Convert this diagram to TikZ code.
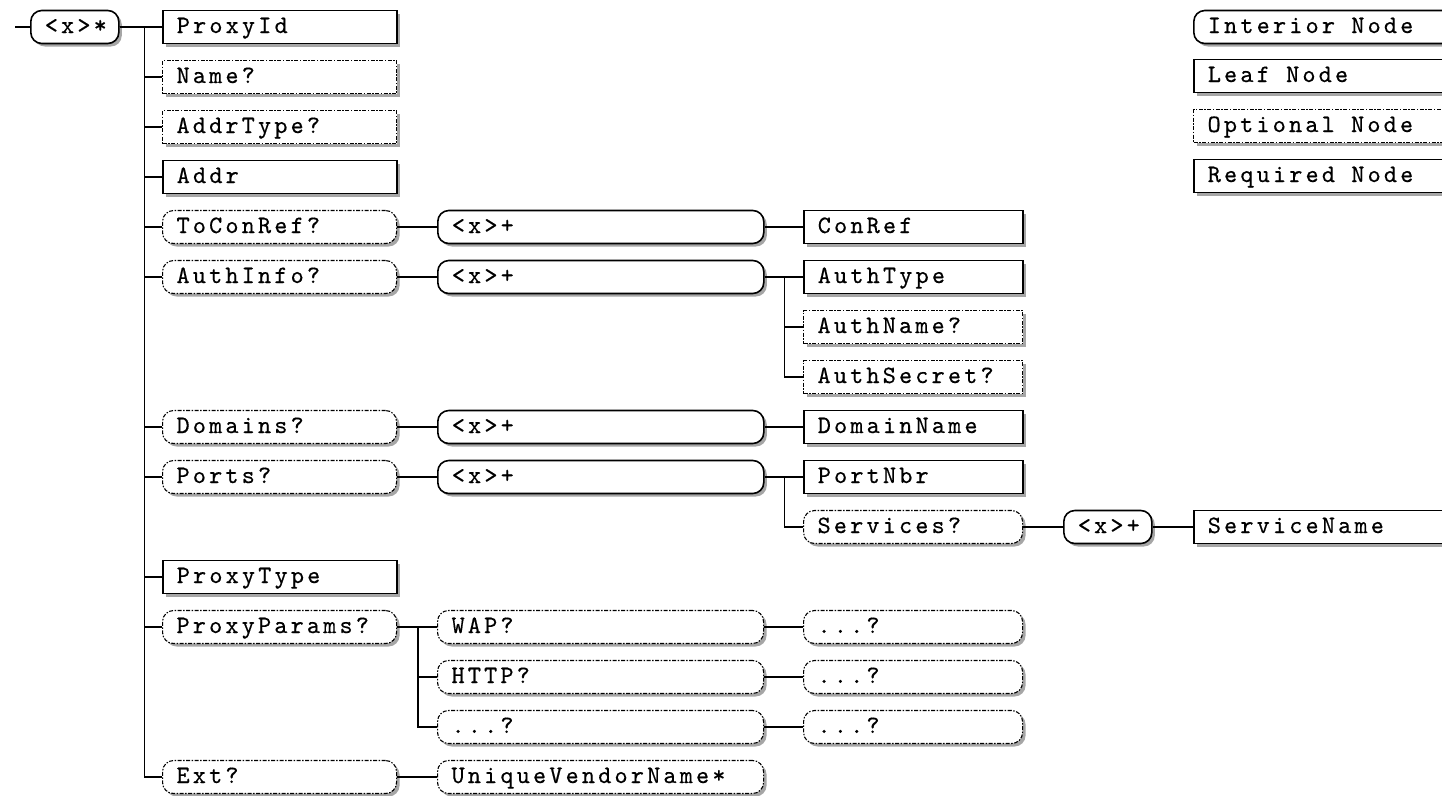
\documentclass[tikz,border=0pt]{standalone}
\usepackage{fontspec}
\newfontfamily\boxfont{lmmono10-regular.otf}[LetterSpace=12.7,FakeBold=0.4]
\newcommand\wsp{\hspace{16.3pt}}
\usetikzlibrary{shadows}
\begin{document}
\begin{tikzpicture}[x=1pt,y=-1pt,
  base/.style={draw=black, fill=white, anchor=west, minimum height=33pt,
    inner xsep=14pt, inner ysep=0pt, text height=15pt, text depth=3pt,
    align=left, font=\boxfont\fontsize{25}{25}\selectfont,
    drop shadow={shadow xshift=3pt, shadow yshift=-3pt, fill=black!35, opacity=1}},
  req/.style={line width=1.6pt},
  opt/.style={line width=1.1pt, dash pattern=on 4pt off 1.5pt on 1.5pt off 1.5pt},
  interior/.style={rounded corners=11pt},
  wone/.style={text width=206pt},
  wtwo/.style={text width=298pt},
  wthree/.style={text width=191pt},
  wsmall/.style={text width=60pt},
  wlong/.style={text width=232pt},
  conn/.style={line width=1.6pt, draw=black}
]
\useasboundingbox (0,0) rectangle (1442,795);
\clip (0,0) rectangle (1442,795);
\fill[white] (0,0) rectangle (1442,795);

% root
\coordinate (start) at (15,27);
\node[base,interior,req,wsmall] (root) at (30,27) {<x>*};

% column 1
\node[base,req,wone] (proxyid) at (162,27) {ProxyId};
\node[base,opt,wone] (name) at (162,77) {Name?};
\node[base,opt,wone] (addrtype) at (162,127) {AddrType?};
\node[base,req,wone] (addr) at (162,177) {Addr};
\node[base,interior,opt,wone] (toconref) at (162,227) {ToConRef?};
\node[base,interior,opt,wone] (authinfo) at (162,277) {AuthInfo?};
\node[base,interior,opt,wone] (domains) at (162,427) {Domains?};
\node[base,interior,opt,wone] (ports) at (162,477) {Ports?};
\node[base,req,wone] (proxytype) at (162,577) {ProxyType};
\node[base,interior,opt,wone] (proxyparams) at (162,627) {ProxyParams?};
\node[base,interior,opt,wone] (ext) at (162,777) {Ext?};

% column 2
\node[base,interior,req,wtwo] (xa) at (437,227) {<x>+};
\node[base,interior,req,wtwo] (xb) at (437,277) {<x>+};
\node[base,interior,req,wtwo] (xc) at (437,427) {<x>+};
\node[base,interior,req,wtwo] (xd) at (437,477) {<x>+};
\node[base,interior,opt,wtwo] (wap) at (437,627) {WAP?};
\node[base,interior,opt,wtwo] (http) at (437,677) {HTTP?};
\node[base,interior,opt,wtwo] (dotsa) at (437,727) {...?};
\node[base,interior,opt,wtwo] (unique) at (437,777) {UniqueVendorName*};

% column 3
\node[base,req,wthree] (conref) at (803,227) {ConRef};
\node[base,req,wthree] (authtype) at (803,277) {AuthType};
\node[base,opt,wthree] (authname) at (803,327) {AuthName?};
\node[base,opt,wthree] (authsecret) at (803,377) {AuthSecret?};
\node[base,req,wthree] (domainname) at (803,427) {DomainName};
\node[base,req,wthree] (portnbr) at (803,477) {PortNbr};
\node[base,interior,opt,wthree] (services) at (803,527) {Services?};
\node[base,interior,opt,wthree] (dotsb) at (803,627) {...?};
\node[base,interior,opt,wthree] (dotsc) at (803,677) {...?};
\node[base,interior,opt,wthree] (dotsd) at (803,727) {...?};

% column 4 / 5
\node[base,interior,req,wsmall] (xe) at (1063,527) {<x>+};
\node[base,req,wlong] (servicename) at (1193,527) {ServiceName};

% legend
\node[base,interior,req,wlong] (leginterior) at (1193,27) {Interior\wsp Node};
\node[base,req,wlong] (legleaf) at (1193,76) {Leaf\wsp Node};
\node[base,opt,wlong] (legoptional) at (1193,126) {Optional\wsp Node};
\node[base,req,wlong] (legrequired) at (1193,176) {Required\wsp Node};

% connectors
\draw[conn] (start) -- (root.west);
\draw[conn] (root.east) -- (proxyid.west);
\foreach \n in {name,addrtype,addr,toconref,authinfo,domains,ports,proxytype,proxyparams,ext}
  \draw[conn] (root.east) -- ++(25,0) |- (\n.west);

\draw[conn] (toconref.east) -- (xa.west);
\draw[conn] (xa.east) -- (conref.west);

\draw[conn] (authinfo.east) -- (xb.west);
\draw[conn] (xb.east) -- (authtype.west);
\draw[conn] (xb.east) -- ++(20,0) |- (authname.west);
\draw[conn] (xb.east) -- ++(20,0) |- (authsecret.west);

\draw[conn] (domains.east) -- (xc.west);
\draw[conn] (xc.east) -- (domainname.west);

\draw[conn] (ports.east) -- (xd.west);
\draw[conn] (xd.east) -- (portnbr.west);
\draw[conn] (xd.east) -- ++(20,0) |- (services.west);
\draw[conn] (services.east) -- (xe.west);
\draw[conn] (xe.east) -- (servicename.west);

\draw[conn] (proxyparams.east) -- (wap.west);
\draw[conn] (proxyparams.east) -- ++(21,0) |- (http.west);
\draw[conn] (proxyparams.east) -- ++(21,0) |- (dotsa.west);
\draw[conn] (wap.east) -- (dotsb.west);
\draw[conn] (http.east) -- (dotsc.west);
\draw[conn] (dotsa.east) -- (dotsd.west);

\draw[conn] (ext.east) -- (unique.west);
\end{tikzpicture}
\end{document}
